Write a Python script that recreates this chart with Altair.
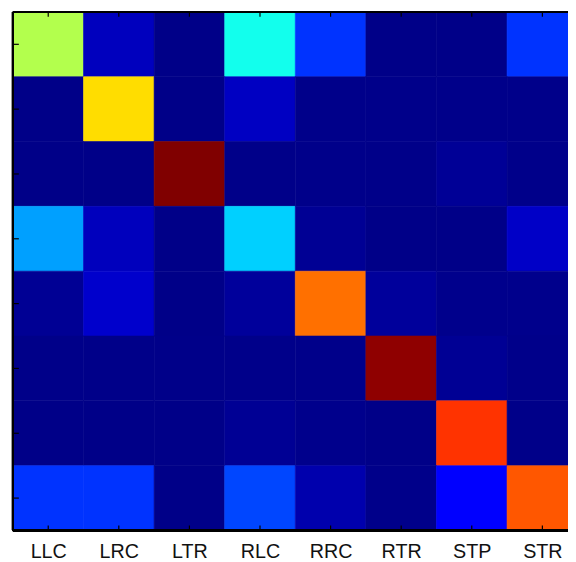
import altair as alt
import pandas as pd
import json

classes = ["LLC", "LRC", "LTR", "RLC", "RRC", "RTR", "STP", "STR"]

row_LLC = [55.0, 6.1, 0.8, 39.3, 17.5, 0.8, 0.8, 17.5]
row_LRC = [0.8, 65.8, 0.8, 6.5, 1.0, 1.0, 1.0, 1.0]
row_LTR = [0.8, 0.8, 100.0, 0.9, 1.0, 0.9, 2.2, 1.0]
row_RLC = [28.2, 6.0, 0.8, 32.9, 2.0, 0.8, 0.8, 7.0]
row_RRC = [2.0, 7.5, 0.8, 2.7, 76.5, 2.7, 1.2, 1.2]
row_RTR = [0.9, 0.9, 0.9, 1.0, 1.0, 98.5, 2.0, 1.0]
row_STP = [0.8, 0.8, 0.8, 2.0, 1.2, 0.8, 82.5, 0.9]
row_STR = [17.5, 17.5, 0.8, 19.4, 4.4, 1.0, 12.5, 79.0]

matrix = [row_LLC, row_LRC, row_LTR, row_RLC, row_RRC, row_RTR, row_STP, row_STR]

jet_domain = [0, 12.5, 37.5, 62.5, 87.5, 100]
jet_colors = ["#000080", "#0000ff", "#00ffff", "#ffff00", "#ff0000", "#800000"]

records = []
for i, actual in enumerate(classes):
    for j, pred in enumerate(classes):
        records.append({"actual": actual, "predicted": pred, "col": j, "col_end": j + 1,
                        "value": matrix[i][j]})
df = pd.DataFrame(records)
cats = pd.DataFrame({"cls": classes, "center": [j + 0.5 for j in range(len(classes))]})

W = 563          # visible plot width; the STR column is cut off at the right
H = 526
CELL_W = 71.6
x_max = W / CELL_W

xscale = alt.Scale(domain=[0, x_max], nice=False, zero=False)
yscale = alt.Scale(domain=classes, paddingInner=0, paddingOuter=0)
cscale = alt.Scale(domain=jet_domain, range=jet_colors, interpolate="rgb")

label_expr = json.dumps(classes) + "[floor(datum.value)]"

heat = alt.Chart(df).mark_rect(strokeWidth=0.6, clip=True).encode(
    x=alt.X("col:Q", scale=xscale,
            axis=alt.Axis(title=None, values=list(cats["center"]), labelExpr=label_expr,
                          labelAngle=0, ticks=False, domain=False, grid=False,
                          labelFont="Liberation Sans", labelFontSize=20,
                          labelColor="#111111", labelPadding=11, labelFlush=False,
                          labelOverlap=False)),
    x2="col_end:Q",
    y=alt.Y("actual:N", scale=yscale, sort=classes, axis=None),
    color=alt.Color("value:Q", scale=cscale, legend=None),
    stroke=alt.Stroke("value:Q", scale=cscale, legend=None),
)

top_ticks = alt.Chart(cats).mark_rule(color="black", strokeWidth=1.2).encode(
    x=alt.X("center:Q", scale=xscale), y=alt.value(0), y2=alt.value(5))
bot_ticks = alt.Chart(cats).mark_rule(color="black", strokeWidth=1.2).encode(
    x=alt.X("center:Q", scale=xscale), y=alt.value(H), y2=alt.value(H - 5))
left_ticks = alt.Chart(cats).mark_rule(color="black", strokeWidth=1.2).encode(
    y=alt.Y("cls:N", scale=yscale, sort=classes), x=alt.value(0), x2=alt.value(6))

left_border = alt.Chart(cats).mark_rule(color="black", strokeWidth=2).encode(
    x=alt.value(0), y=alt.value(0), y2=alt.value(H))
top_border = alt.Chart(cats).mark_rule(color="black", strokeWidth=2).encode(
    x=alt.value(0), x2=alt.value(W), y=alt.value(0))
bot_border = alt.Chart(cats).mark_rule(color="black", strokeWidth=2).encode(
    x=alt.value(0), x2=alt.value(W), y=alt.value(H))

chart = alt.layer(heat, top_ticks, bot_ticks, left_ticks, left_border, top_border, bot_border).properties(
    width=W, height=H,
    autosize=alt.AutoSizeParams(type="none"),
    padding={"left": 5, "top": 0, "right": 0, "bottom": 28},
).configure_view(stroke=None)

chart.save("out.html", embed_options={"renderer": "svg", "actions": False})
